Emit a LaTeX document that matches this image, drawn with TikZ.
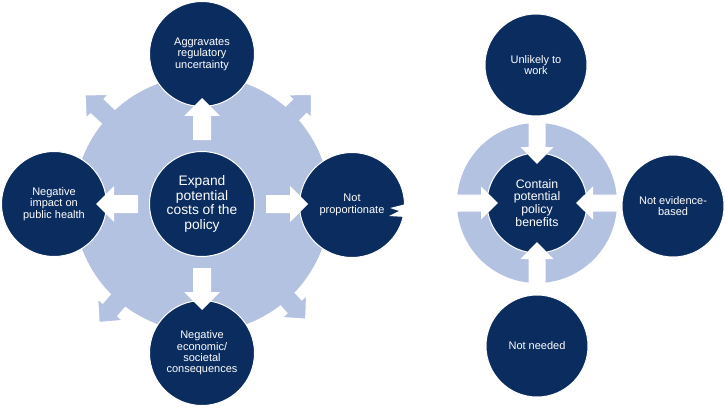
\documentclass[tikz,border=0pt]{standalone}
\usepackage{fontspec}
\setmainfont{Liberation Sans}
\usepackage{xcolor}

\definecolor{navy}{RGB}{11,44,94}
\definecolor{paleblue}{RGB}{180,194,225}

\tikzset{
  bubble/.style={circle, fill=navy, draw=white, line width=1pt, text=white,
    align=center, inner sep=0pt, minimum size=105pt,
    font=\fontsize{11}{11.4}\selectfont},
  hub/.style={bubble, font=\fontsize{13.8}{14.7}\selectfont},
}

\begin{document}
\begin{tikzpicture}[x=1pt, y=-1pt]
\useasboundingbox (0,0) rectangle (725,409);

% costs side
\foreach \a/\r in {137/160, 45/155, 229/157, 312/155} {
    \filldraw[fill=paleblue, draw=white, line width=1.2pt, shift={(202,204)}, rotate=\a]
        (100,-10) -- (\r-17,-10) -- (\r-17,-16.5) -- (\r,0) -- (\r-17,16.5) -- (\r-17,10) -- (100,10) -- cycle;
}
\fill[paleblue] (202,204) circle (128pt);

\node[hub]    (cost)   at (202,204) {Expand\\potential\\costs of the\\policy};
\node[bubble] (aggr)   at (202,54)  {Aggravates\\regulatory\\uncertainty};
\node[bubble] (prop)   at (352,205) {Not\\proportionate};
\node[bubble] (econ)   at (202,353) {Negative\\economic/\\societal\\consequences};
\node[bubble] (health) at (54,204)  {Negative\\impact on\\public health};

\foreach \a in {0,90,180,270} {
    \fill[white, shift={(cost.center)}, rotate=\a]
        (64,-9) -- (88,-9) -- (88,-18) -- (106,0) -- (88,18) -- (88,9) -- (64,9) -- cycle;
}
\fill[white] (406,204) -- (390,208) -- (399,211) -- (389,216) -- (406,217) -- cycle;

% benefits side
\fill[paleblue] (537,203) circle (80pt);

\node[bubble, minimum size=100pt, font=\fontsize{12.3}{12.8}\selectfont]
                                  (gain) at (537,203) {Contain\\potential\\policy\\benefits};
\node[bubble, minimum size=102pt] (work) at (536,65)  {Unlikely to\\work};
\node[bubble, minimum size=102pt] (evid) at (673,206) {Not evidence-\\based};
\node[bubble, minimum size=102pt] (need) at (537,346) {Not needed};

\foreach \a in {0,90,180,270} {
    \fill[white, shift={(gain.center)}, rotate=\a]
        (82,-8.5) -- (56,-8.5) -- (56,-16.5) -- (39,0) -- (56,16.5) -- (56,8.5) -- (82,8.5) -- cycle;
}

\end{tikzpicture}
\end{document}
